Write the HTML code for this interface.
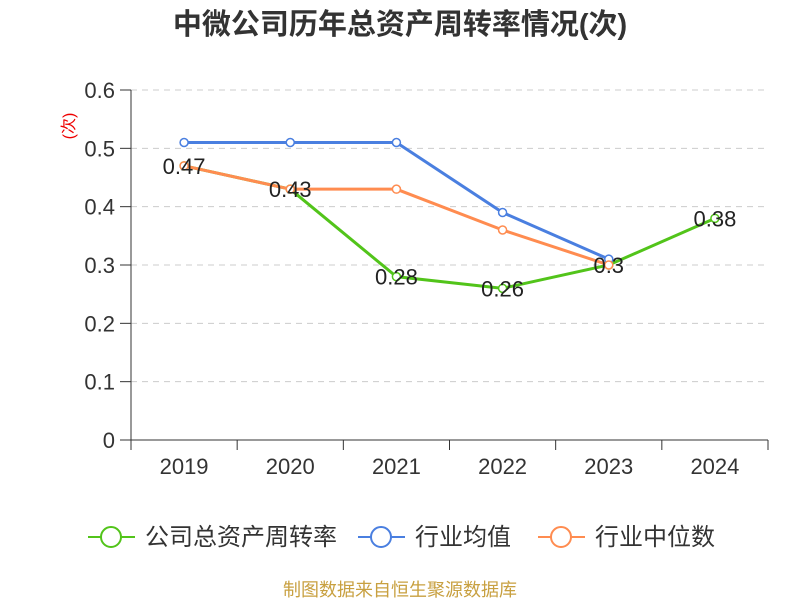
<!DOCTYPE html>
<html><head><meta charset="utf-8"><style>
body{margin:0;background:#fff;}
svg{display:block;font-family:"Liberation Sans","Noto Sans CJK SC",sans-serif;}
</style></head><body>
<svg id="c" width="800" height="600">
<text x="400" y="34" text-anchor="middle" font-size="29" font-weight="bold" fill="#333">中微公司历年总资产周转率情况(次)</text>
<text transform="translate(74,126) rotate(-90)" text-anchor="middle" font-size="16" fill="#e00">(次)</text>
<g id="grid"></g><g id="axes"></g><g id="series"></g>
<g>
<g><line x1="88" y1="537" x2="135" y2="537" stroke="#52c41a" stroke-width="2"/><circle cx="111" cy="537" r="10" fill="#fff" stroke="#52c41a" stroke-width="2"/><text x="145" y="545" font-size="24" fill="#333">公司总资产周转率</text></g>
<g><line x1="358" y1="537" x2="405" y2="537" stroke="#4a7fe0" stroke-width="2"/><circle cx="381" cy="537" r="10" fill="#fff" stroke="#4a7fe0" stroke-width="2"/><text x="415" y="545" font-size="24" fill="#333">行业均值</text></g>
<g><line x1="538" y1="537" x2="585" y2="537" stroke="#ff8c50" stroke-width="2"/><circle cx="561" cy="537" r="10" fill="#fff" stroke="#ff8c50" stroke-width="2"/><text x="595" y="545" font-size="24" fill="#333">行业中位数</text></g>
</g>
<text x="400" y="596" text-anchor="middle" font-size="18" fill="#c8a040">制图数据来自恒生聚源数据库</text>
</svg>
<script>
const categories=["2019","2020","2021","2022","2023","2024"];
const companyValues=[0.47,0.43,0.28,0.26,0.3,0.38];
const industryMean=[0.51,0.51,0.51,0.39,0.31,null];
const industryMedian=[0.47,0.43,0.43,0.36,0.3,null];
const yTicks=[0,0.1,0.2,0.3,0.4,0.5,0.6];
const NS="http://www.w3.org/2000/svg";
const L=131,R=768,T=90,B=440,yMax=0.6;
const bw=(R-L)/categories.length;
const xs=i=>L+bw*(i+0.5);
const ys=v=>B-(v/yMax)*(B-T);
function mk(t,a,p){const e=document.createElementNS(NS,t);for(const k in a)e.setAttribute(k,a[k]);p.appendChild(e);return e;}
const grid=document.getElementById('grid'),axes=document.getElementById('axes'),ser=document.getElementById('series');
yTicks.forEach(v=>{
 if(v>0){const g=mk('line',{x1:L,x2:R,y1:ys(v),y2:ys(v),stroke:'#ccc','stroke-dasharray':'6,5'},grid);
 
 }
 const tk=mk('line',{x1:L-11,x2:L,y1:ys(v),y2:ys(v),stroke:'#333'},axes);
 
 
 const t=mk('text',{x:L-16,y:ys(v)+8,'text-anchor':'end','font-size':22,fill:'#333'},axes);t.textContent=String(v);
 
 
});
const ya=mk('line',{x1:L,x2:L,y1:T,y2:B,stroke:'#333'},axes);


const xa=mk('line',{x1:L,x2:R,y1:B,y2:B,stroke:'#333'},axes);


for(let i=0;i<=categories.length;i++){const tk=mk('line',{x1:L+bw*i,x2:L+bw*i,y1:B,y2:B+10,stroke:'#333'},axes);
 
 }
categories.forEach((c,i)=>{const t=mk('text',{x:xs(i),y:B+34,'text-anchor':'middle','font-size':22,fill:'#333'},axes);t.textContent=c;
 
 });
const labelLayer=[];
function draw(vals,color,name,labels){
 const g=mk('g',{},ser);
 
 
 const pts=[];vals.forEach((v,i)=>{if(v!=null)pts.push([xs(i),ys(v),v]);});
 const p=mk('polyline',{points:pts.map(q=>q[0]+','+q[1]).join(' '),fill:'none',stroke:color,'stroke-width':3},g);
 
 
 pts.forEach(q=>{const c=mk('circle',{cx:q[0],cy:q[1],r:4,fill:'#fff',stroke:color,'stroke-width':1.5},g);
  
  
  if(labels)labelLayer.push(q);});
}
draw(companyValues,'#52c41a','series-company',true);
draw(industryMean,'#4a7fe0','series-industry-mean',false);
draw(industryMedian,'#ff8c50','series-industry-median',false);
labelLayer.forEach(q=>{const t=mk('text',{x:q[0],y:q[1]+8,'text-anchor':'middle','font-size':22,fill:'#222'},ser);t.textContent=String(q[2]);
 
 });
</script>
</body></html>
